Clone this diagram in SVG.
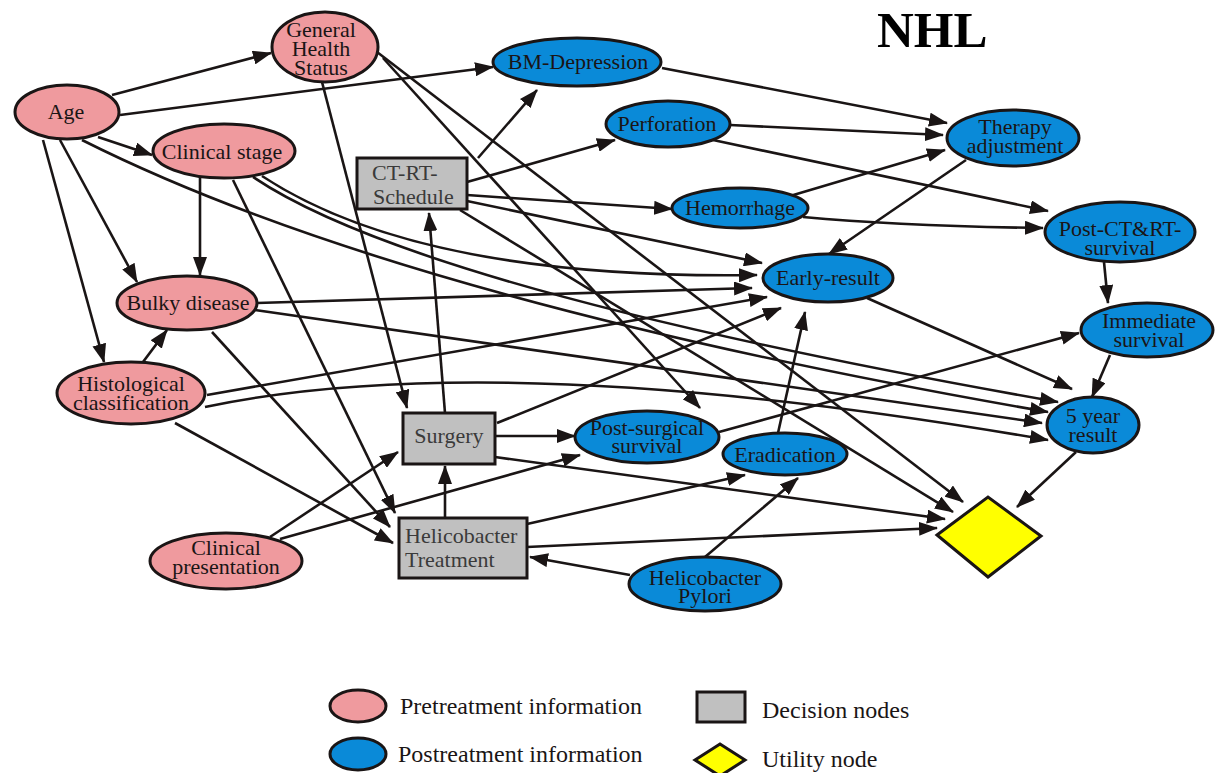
<svg xmlns="http://www.w3.org/2000/svg" width="1218" height="773" viewBox="0 0 1218 773">
  <style>
    .pre { fill: #ef9a9e; stroke: #1a1515; stroke-width: 3; }
    .post { fill: #0a8ad8; stroke: #1a1515; stroke-width: 3; }
    .dec { fill: #c0c0c0; stroke: #1a1515; stroke-width: 3; }
    .util { fill: #ffff00; stroke: #1a1515; stroke-width: 3; stroke-linejoin: miter; }
    .lbl { font-family: "Liberation Serif", "Times New Roman", serif; font-size: 22px; fill: #1a1515; text-anchor: middle; }
    .dlbl { font-family: "Liberation Serif", "Times New Roman", serif; font-size: 22px; fill: #3a3a3a; }
    .leg { font-family: "Liberation Serif", "Times New Roman", serif; font-size: 24px; fill: #1a1515; }
    .title { font-family: "Liberation Serif", "Times New Roman", serif; font-size: 51px; font-weight: bold; fill: #000; }
    #edges path { fill: none; stroke: #1a1515; stroke-width: 2.6; marker-end: url(#arr); }
  </style>
  <defs>
    <marker id="arr" markerUnits="userSpaceOnUse" markerWidth="19" markerHeight="14" viewBox="0 0 19 14" refX="18" refY="7" orient="auto">
      <path d="M0,0 L19,7 L0,14 z" fill="#1a1515"/>
    </marker>
  </defs>

  <rect width="1218" height="773" fill="#ffffff"/>

  <text class="title" x="877" y="47">NHL</text>

  <!-- connectors -->
  <g id="edges">
    <!-- from Age -->
    <path d="M112,95 L271,53"/>
    <path d="M120,115 L493,67"/>
    <path d="M98,137 L152,155"/>
    <path d="M60,140 L137,282"/>
    <path d="M43,140 L104,362"/>
    <path d="M82,140 Q400,300 1048,412"/>
    <!-- from Clinical stage -->
    <path d="M200,178 L200,275"/>
    <path d="M233,180 L395,513"/>
    <path d="M253,177 Q420,290 1058,402"/>
    <path d="M262,176 Q420,280 757,275"/>
    <!-- from General Health Status -->
    <path d="M322,82 L407,408"/>
    <path d="M383,58 L700,408"/>
    <path d="M377,52 L963,502"/>
    <!-- from Bulky disease -->
    <path d="M257,303 L752,288"/>
    <path d="M255,310 L1042,423"/>
    <path d="M212,332 L390,527"/>
    <!-- from Histological classification -->
    <path d="M143,362 L167,330"/>
    <path d="M207,395 L767,297"/>
    <path d="M205,407 Q500,345 1048,440"/>
    <path d="M175,423 L393,543"/>
    <!-- from Clinical presentation -->
    <path d="M270,537 L398,452"/>
    <path d="M280,539 L580,455"/>
    <!-- from CT-RT-Schedule -->
    <path d="M478,158 L537,90"/>
    <path d="M467,182 L615,140"/>
    <path d="M467,195 L672,209"/>
    <path d="M467,201 L762,263"/>
    <path d="M460,210 L953,512"/>
    <!-- from Surgery -->
    <path d="M445,413 L429,213"/>
    <path d="M495,436 L575,436"/>
    <path d="M497,423 L781,308"/>
    <path d="M495,457 L945,519"/>
    <!-- from Helicobacter Treatment -->
    <path d="M445,518 L445,466"/>
    <path d="M527,524 L745,475"/>
    <path d="M527,547 L937,528"/>
    <!-- from Helicobacter Pylori -->
    <path d="M630,575 L530,557"/>
    <path d="M705,557 L798,478"/>
    <!-- postreatment chain -->
    <path d="M778,433 L805,312"/>
    <path d="M719,432 L1079,333"/>
    <path d="M662,68 L947,123"/>
    <path d="M730,125 L943,135"/>
    <path d="M790,196 L945,150"/>
    <path d="M713,140 L1048,211"/>
    <path d="M803,217 Q900,226 1043,228"/>
    <path d="M966,160 L829,254"/>
    <path d="M1104,262 L1108,303"/>
    <path d="M867,298 L1072,389"/>
    <path d="M1110,355 L1092,397"/>
    <path d="M1076,452 L1017,507"/>
  </g>

  <!-- pretreatment nodes -->
  <g id="age">
    <ellipse class="pre" cx="67" cy="112" rx="52" ry="27"/>
    <text class="lbl" x="66" y="119">Age</text>
  </g>
  <g id="general-health">
    <ellipse class="pre" cx="325" cy="47" rx="53" ry="35"/>
    <text class="lbl" x="321" y="37">General</text>
    <text class="lbl" x="321" y="56">Health</text>
    <text class="lbl" x="321" y="75">Status</text>
  </g>
  <g id="clinical-stage">
    <ellipse class="pre" cx="224" cy="151" rx="71" ry="27"/>
    <text class="lbl" x="222" y="159">Clinical stage</text>
  </g>
  <g id="bulky-disease">
    <ellipse class="pre" cx="187" cy="303" rx="70" ry="27"/>
    <text class="lbl" x="188" y="310">Bulky disease</text>
  </g>
  <g id="histological">
    <ellipse class="pre" cx="131" cy="393" rx="74" ry="31"/>
    <text class="lbl" x="131" y="391">Histological</text>
    <text class="lbl" x="131" y="410">classification</text>
  </g>
  <g id="clinical-presentation">
    <ellipse class="pre" cx="226" cy="561" rx="76" ry="28"/>
    <text class="lbl" x="226" y="555">Clinical</text>
    <text class="lbl" x="226" y="574">presentation</text>
  </g>

  <!-- decision nodes -->
  <g id="ct-rt-schedule">
    <rect class="dec" x="357" y="158" width="110" height="51"/>
    <text class="dlbl" x="372" y="180">CT-RT-</text>
    <text class="dlbl" x="373" y="204">Schedule</text>
  </g>
  <g id="surgery">
    <rect class="dec" x="403" y="413" width="92" height="51"/>
    <text class="dlbl" x="449" y="443" text-anchor="middle">Surgery</text>
  </g>
  <g id="helicobacter-treatment">
    <rect class="dec" x="399" y="518" width="128" height="60"/>
    <text class="dlbl" x="405" y="543">Helicobacter</text>
    <text class="dlbl" x="405" y="567">Treatment</text>
  </g>

  <!-- postreatment nodes -->
  <g id="bm-depression">
    <ellipse class="post" cx="577" cy="62" rx="84" ry="24"/>
    <text class="lbl" x="578" y="69">BM-Depression</text>
  </g>
  <g id="perforation">
    <ellipse class="post" cx="668" cy="124" rx="62" ry="23"/>
    <text class="lbl" x="667" y="131">Perforation</text>
  </g>
  <g id="hemorrhage">
    <ellipse class="post" cx="740" cy="208" rx="68" ry="20"/>
    <text class="lbl" x="740" y="215">Hemorrhage</text>
  </g>
  <g id="therapy-adjustment">
    <ellipse class="post" cx="1013" cy="138" rx="66" ry="28"/>
    <text class="lbl" x="1015" y="134">Therapy</text>
    <text class="lbl" x="1015" y="153">adjustment</text>
  </g>
  <g id="post-ct-rt-survival">
    <ellipse class="post" cx="1120" cy="232" rx="75" ry="30"/>
    <text class="lbl" x="1120" y="236">Post-CT&amp;RT-</text>
    <text class="lbl" x="1120" y="255">survival</text>
  </g>
  <g id="early-result">
    <ellipse class="post" cx="828" cy="278" rx="65" ry="24"/>
    <text class="lbl" x="828" y="285">Early-result</text>
  </g>
  <g id="immediate-survival">
    <ellipse class="post" cx="1147" cy="330" rx="66" ry="27"/>
    <text class="lbl" x="1149" y="328">Immediate</text>
    <text class="lbl" x="1149" y="347">survival</text>
  </g>
  <g id="five-year-result">
    <ellipse class="post" cx="1093" cy="425" rx="46" ry="28"/>
    <text class="lbl" x="1093" y="423">5 year</text>
    <text class="lbl" x="1093" y="442">result</text>
  </g>
  <g id="post-surgical-survival">
    <ellipse class="post" cx="647" cy="437" rx="72" ry="26"/>
    <text class="lbl" x="647" y="435">Post-surgical</text>
    <text class="lbl" x="647" y="453">survival</text>
  </g>
  <g id="eradication">
    <ellipse class="post" cx="785" cy="454" rx="62" ry="21"/>
    <text class="lbl" x="785" y="462">Eradication</text>
  </g>
  <g id="helicobacter-pylori">
    <ellipse class="post" cx="705" cy="584" rx="76" ry="27"/>
    <text class="lbl" x="705" y="585">Helicobacter</text>
    <text class="lbl" x="705" y="603">Pylori</text>
  </g>

  <!-- utility node -->
  <g id="utility">
    <polygon class="util" points="937,535 988,497 1041,536 988,577"/>
  </g>

  <!-- legend -->
  <g id="legend">
    <ellipse class="pre" cx="358" cy="706" rx="28" ry="16"/>
    <text class="leg" x="400" y="714">Pretreatment information</text>
    <ellipse class="post" cx="358" cy="754" rx="28" ry="16"/>
    <text class="leg" x="398" y="762">Postreatment information</text>
    <rect class="dec" x="697" y="692" width="48" height="30"/>
    <text class="leg" x="762" y="718">Decision nodes</text>
    <polygon class="util" points="695,760 720,744 745,760 720,776"/>
    <text class="leg" x="762" y="767">Utility node</text>
  </g>
</svg>
